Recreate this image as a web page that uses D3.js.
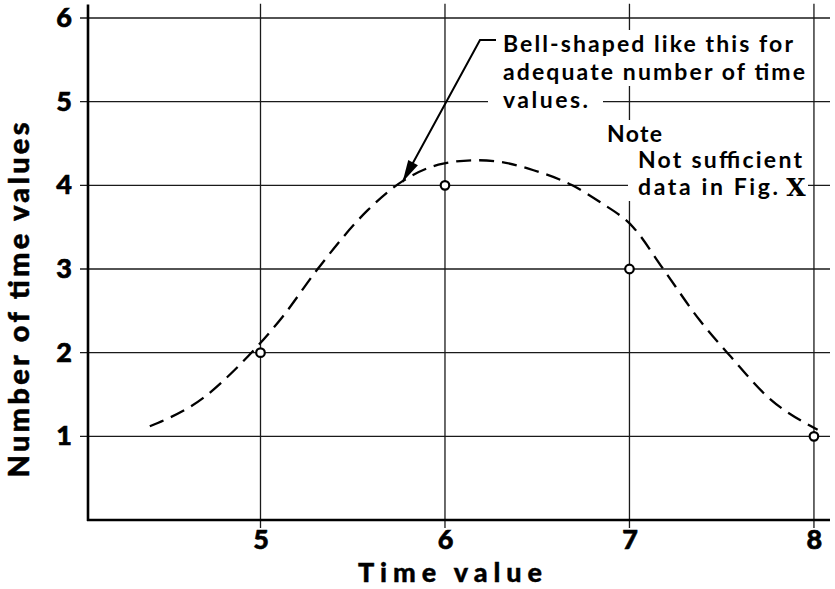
<!DOCTYPE html>
<html>
<head>
<meta charset="utf-8">
<script src="https://cdn.jsdelivr.net/npm/d3@7/dist/d3.min.js"></script>
<style>
  body { margin: 0; background: #fff; }
  text { fill: #000; }
</style>
</head>
<body>
<div id="wrapper"></div>
<script>
// 1. Data

const xTicks = [5, 6, 7, 8]
const yTicks = [1, 2, 3, 4, 5, 6]

// plotted observations (open circles)
const pointX = [5, 6, 7, 8]
const pointY = [2, 4, 3, 1]

// the dashed bell-shaped curve
const curveX = [4.40, 4.69, 4.89, 5.12, 5.31, 5.58, 5.77, 5.99, 6.17, 6.30, 6.48, 6.69, 6.84, 7.02, 7.18, 7.38, 7.55, 7.75, 8.02]
const curveY = [1.12, 1.46, 1.86, 2.43, 3.00, 3.70, 4.05, 4.26, 4.30, 4.28, 4.18, 4.00, 3.80, 3.50, 3.01, 2.39, 1.95, 1.47, 1.08]

const xLabel = "Time value"
const yLabel = "Number of time values"
const bellNote = ["Bell-shaped like this for", "adequate number of time", "values."]
const sideNote = ["Note", "Not sufficient", "data in Fig."]
const figNumeral = "X"

function drawChart() {

  // 2. Dimensions

  let dimensions = {
    width: 835,
    height: 589,
    margin: { top: 18, right: 5, bottom: 69, left: 88 },
  }
  dimensions.boundedWidth = dimensions.width - dimensions.margin.left - dimensions.margin.right
  dimensions.boundedHeight = dimensions.height - dimensions.margin.top - dimensions.margin.bottom

  const font = "Lato, 'DejaVu Sans', sans-serif"

  // 3. Canvas

  const wrapper = d3.select("#wrapper")
    .append("svg")
    .attr("width", dimensions.width)
    .attr("height", dimensions.height)
    .style("background", "#fff")

  // 4. Scales

  const xScale = d3.scaleLinear()
    .domain([4.065, 8.087])
    .range([dimensions.margin.left, dimensions.width - dimensions.margin.right])

  const yScale = d3.scaleLinear()
    .domain([0, 6])
    .range([dimensions.height - dimensions.margin.bottom, dimensions.margin.top])

  const x0 = xScale.range()[0], x1 = xScale.range()[1]
  const y0 = yScale(0), yTop = yScale(6.17)

  // 5. Grid

  const grid = wrapper.append("g")
    .attr("stroke", "#1a1a1a")
    .attr("stroke-width", 1.3)

  grid.selectAll(".h")
    .data(yTicks)
    .join("line")
      .attr("x1", x0 - 8)
      .attr("x2", x1)
      .attr("y1", d => yScale(d))
      .attr("y2", d => yScale(d))

  grid.selectAll(".v")
    .data(xTicks)
    .join("line")
      .attr("x1", d => xScale(d))
      .attr("x2", d => xScale(d))
      .attr("y1", y0 + 8)
      .attr("y2", yTop)

  // 6. Axes (labels only, lines drawn by hand below)

  const xAxisGen = d3.axisBottom(xScale).tickValues(xTicks).tickSize(0).tickPadding(10).tickFormat(d3.format("d"))
  const yAxisGen = d3.axisLeft(yScale).tickValues(yTicks).tickSize(0).tickPadding(16).tickFormat(d3.format("d"))

  const axisX = wrapper.append("g")
    .attr("transform", `translate(0, ${y0})`)
    .call(xAxisGen)
  const axisY = wrapper.append("g")
    .attr("transform", `translate(${x0}, 0)`)
    .call(yAxisGen)

  for (const ax of [axisX, axisY]) {
    ax.select(".domain").remove()
    ax.selectAll("text")
      .style("font-family", font)
      .style("font-weight", 900)
      .style("font-size", "27px")
      .attr("fill", "#000")
      .attr("stroke", "#000")
      .attr("stroke-width", 0.6)
  }
  axisX.selectAll("text").attr("dy", "0.71em")

  wrapper.append("line")
    .attr("x1", x0).attr("x2", x0)
    .attr("y1", y0 + 1).attr("y2", yScale(6.16))
    .attr("stroke", "#000").attr("stroke-width", 2.6)
  wrapper.append("line")
    .attr("x1", x0 - 1).attr("x2", x1)
    .attr("y1", y0).attr("y2", y0)
    .attr("stroke", "#000").attr("stroke-width", 2.6)

  // axis titles
  wrapper.append("text")
    .attr("x", 450)
    .attr("y", 582)
    .attr("text-anchor", "middle")
    .attr("textLength", 184)
    .attr("lengthAdjust", "spacing")
    .attr("stroke", "#000")
    .attr("stroke-width", 0.4)
    .style("font-family", font)
    .style("font-weight", 900)
    .style("font-size", "27px")
    .text(xLabel)

  wrapper.append("text")
    .attr("transform", "translate(29, 300) rotate(-90)")
    .attr("text-anchor", "middle")
    .attr("textLength", 355)
    .attr("lengthAdjust", "spacing")
    .attr("stroke", "#000")
    .attr("stroke-width", 0.5)
    .style("font-family", font)
    .style("font-weight", 900)
    .style("font-size", "29px")
    .text(yLabel)

  // 7. Notes, each line on a white patch that breaks the grid

  const notes = wrapper.append("g")
  function noteLine(str, x, y, w, padL, padR) {
    notes.append("rect")
      .attr("x", x - padL)
      .attr("y", y - 22)
      .attr("width", w + padL + padR)
      .attr("height", 28)
      .attr("fill", "#fff")
    return notes.append("text")
      .attr("x", x)
      .attr("y", y)
      .attr("textLength", w)
      .attr("lengthAdjust", "spacing")
      .style("font-family", font)
      .style("font-weight", 700)
      .style("font-size", "23px")
      .text(str)
  }
  noteLine(bellNote[0], 503, 52, 290, 8, 6)
  noteLine(bellNote[1], 503, 80, 302, 8, 6)
  noteLine(bellNote[2], 503, 108, 85, 15, 15)
  noteLine(sideNote[0], 607, 142, 55, 10, 10)
  noteLine(sideNote[1], 638, 168, 164, 10, 6)
  noteLine(sideNote[2], 638, 195, 140, 10, 30)

  notes.append("text")
    .attr("x", 796)
    .attr("y", 196)
    .attr("text-anchor", "middle")
    .style("font-family", "'DejaVu Serif', serif")
    .style("font-weight", 700)
    .style("font-size", "25px")
    .text(figNumeral)

  // 8. Dashed curve and observed points

  const lineGenerator = d3.line()
    .x((d, i) => xScale(curveX[i]))
    .y(d => yScale(d))
    .curve(d3.curveMonotoneX)

  wrapper.append("path")
    .attr("d", lineGenerator(curveY))
    .attr("fill", "none")
    .attr("stroke", "#000")
    .attr("stroke-width", 2.3)
    .attr("stroke-dasharray", "15,8")

  wrapper.selectAll(".pt")
    .data(pointY)
    .join("circle")
      .attr("cx", (d, i) => xScale(pointX[i]))
      .attr("cy", d => yScale(d))
      .attr("r", 4.3)
      .attr("fill", "#fff")
      .attr("stroke", "#000")
      .attr("stroke-width", 2.2)

  // 9. Leader arrow from the note to the curve

  const tipX = xScale(5.77), tipY = yScale(4.04)
  const startX = 480, startY = 40
  wrapper.append("path")
    .attr("d", `M${startX + 16},${startY} L${startX},${startY} L${tipX},${tipY}`)
    .attr("fill", "none")
    .attr("stroke", "#000")
    .attr("stroke-width", 2)

  const ang = Math.atan2(tipY - startY, tipX - startX)
  const len = 22, half = 5.5
  const bx = tipX - len * Math.cos(ang), by = tipY - len * Math.sin(ang)
  const px = -Math.sin(ang) * half, py = Math.cos(ang) * half
  wrapper.append("path")
    .attr("d", `M${tipX},${tipY} L${bx + px},${by + py} L${bx - px},${by - py} Z`)
    .attr("fill", "#000")
}
drawChart()
</script>
</body>
</html>
